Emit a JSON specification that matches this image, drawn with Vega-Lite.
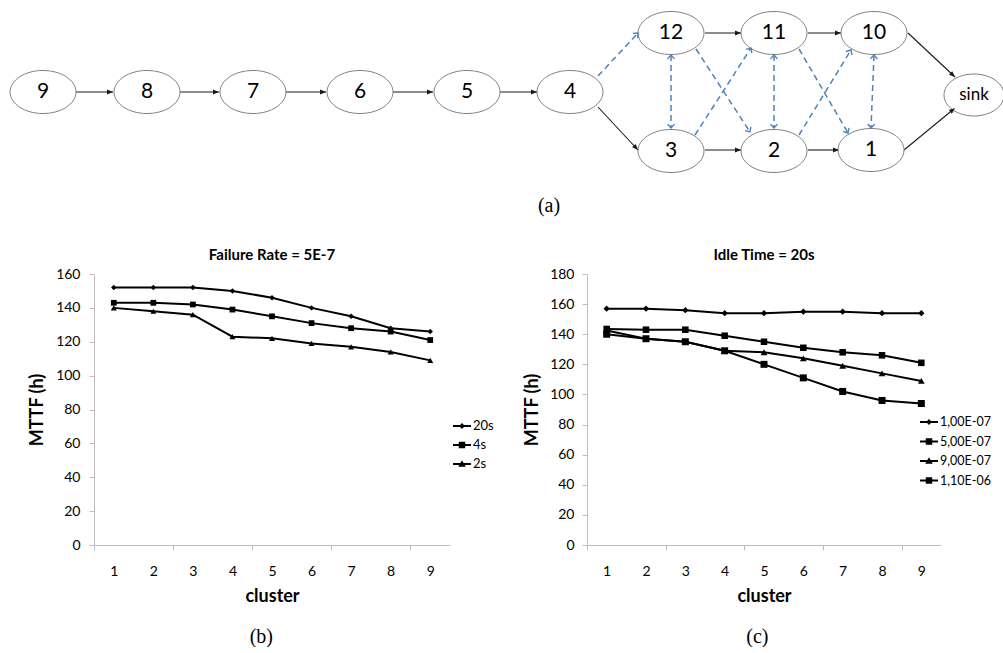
{
  "$schema": "https://vega.github.io/schema/vega-lite/v6.json",
  "padding": {"left": 8, "top": 0, "right": 0, "bottom": 0},
  "background": "white",
  "datasets": {
    "edges": [
      {"from": "9", "to": "8", "kind": "flow", "x1": 75, "y1": 92, "x2": 112, "y2": 92},
      {"from": "8", "to": "7", "kind": "flow", "x1": 179, "y1": 92, "x2": 218, "y2": 92},
      {"from": "7", "to": "6", "kind": "flow", "x1": 285, "y1": 92, "x2": 325, "y2": 92},
      {"from": "6", "to": "5", "kind": "flow", "x1": 392, "y1": 92, "x2": 432, "y2": 92},
      {"from": "5", "to": "4", "kind": "flow", "x1": 499, "y1": 92, "x2": 536, "y2": 92},
      {"from": "4", "to": "3", "kind": "flow", "x1": 597, "y1": 107, "x2": 637, "y2": 150},
      {"from": "12", "to": "11", "kind": "flow", "x1": 704, "y1": 33, "x2": 740, "y2": 33},
      {"from": "11", "to": "10", "kind": "flow", "x1": 807, "y1": 33, "x2": 840, "y2": 33},
      {"from": "3", "to": "2", "kind": "flow", "x1": 704, "y1": 150, "x2": 740, "y2": 150},
      {"from": "2", "to": "1", "kind": "flow", "x1": 807, "y1": 150, "x2": 838, "y2": 150},
      {"from": "10", "to": "sink", "kind": "flow", "x1": 907, "y1": 33, "x2": 954, "y2": 77},
      {"from": "1", "to": "sink", "kind": "flow", "x1": 903, "y1": 150, "x2": 954, "y2": 108},
      {"from": "4", "to": "12", "kind": "backup", "x1": 597, "y1": 76, "x2": 637, "y2": 33},
      {"from": "12", "to": "3", "kind": "backup", "x1": 670, "y1": 55, "x2": 670, "y2": 128},
      {"from": "12", "to": "2", "kind": "backup", "x1": 695, "y1": 49, "x2": 749, "y2": 132},
      {"from": "3", "to": "11", "kind": "backup", "x1": 694, "y1": 135, "x2": 750, "y2": 48},
      {"from": "11", "to": "2", "kind": "backup", "x1": 773, "y1": 55, "x2": 773, "y2": 128},
      {"from": "11", "to": "1", "kind": "backup", "x1": 798, "y1": 49, "x2": 847, "y2": 133},
      {"from": "2", "to": "10", "kind": "backup", "x1": 798, "y1": 135, "x2": 850, "y2": 50},
      {"from": "10", "to": "1", "kind": "backup", "x1": 873, "y1": 55, "x2": 870, "y2": 128}
    ],
    "heads": [
      {"kind": "flow", "x": 112, "y": 92, "angle": 0},
      {"kind": "flow", "x": 218, "y": 92, "angle": 0},
      {"kind": "flow", "x": 325, "y": 92, "angle": 0},
      {"kind": "flow", "x": 432, "y": 92, "angle": 0},
      {"kind": "flow", "x": 536, "y": 92, "angle": 0},
      {"kind": "flow", "x": 637, "y": 150, "angle": 47},
      {"kind": "flow", "x": 740, "y": 33, "angle": 0},
      {"kind": "flow", "x": 840, "y": 33, "angle": 0},
      {"kind": "flow", "x": 740, "y": 150, "angle": 0},
      {"kind": "flow", "x": 838, "y": 150, "angle": 0},
      {"kind": "flow", "x": 954, "y": 77, "angle": 43},
      {"kind": "flow", "x": 954, "y": 108, "angle": -40},
      {"kind": "backup", "x": 637, "y": 33, "angle": -46},
      {"kind": "backup", "x": 670, "y": 128, "angle": 90},
      {"kind": "backup", "x": 670, "y": 55, "angle": -90},
      {"kind": "backup", "x": 749, "y": 132, "angle": 57},
      {"kind": "backup", "x": 750, "y": 48, "angle": -57},
      {"kind": "backup", "x": 773, "y": 128, "angle": 90},
      {"kind": "backup", "x": 773, "y": 55, "angle": -90},
      {"kind": "backup", "x": 847, "y": 133, "angle": 60},
      {"kind": "backup", "x": 850, "y": 50, "angle": -59},
      {"kind": "backup", "x": 870, "y": 128, "angle": 92},
      {"kind": "backup", "x": 873, "y": 55, "angle": -88}
    ],
    "nodes": [
      {"id": "9", "kind": "node", "x": 42, "y": 92},
      {"id": "8", "kind": "node", "x": 146, "y": 92},
      {"id": "7", "kind": "node", "x": 252, "y": 92},
      {"id": "6", "kind": "node", "x": 359, "y": 92},
      {"id": "5", "kind": "node", "x": 466, "y": 92},
      {"id": "4", "kind": "node", "x": 569, "y": 92},
      {"id": "12", "kind": "node", "x": 670, "y": 33},
      {"id": "11", "kind": "node", "x": 773, "y": 33},
      {"id": "10", "kind": "node", "x": 873, "y": 33},
      {"id": "3", "kind": "node", "x": 670, "y": 151},
      {"id": "2", "kind": "node", "x": 773, "y": 151},
      {"id": "1", "kind": "node", "x": 870, "y": 150},
      {"id": "sink", "kind": "sink", "x": 973, "y": 95}
    ],
    "b": [
      {"series": "20s", "cluster": 1, "mttf": 152}, {"series": "20s", "cluster": 2, "mttf": 152}, {"series": "20s", "cluster": 3, "mttf": 152},
      {"series": "20s", "cluster": 4, "mttf": 150}, {"series": "20s", "cluster": 5, "mttf": 146}, {"series": "20s", "cluster": 6, "mttf": 140},
      {"series": "20s", "cluster": 7, "mttf": 135}, {"series": "20s", "cluster": 8, "mttf": 128}, {"series": "20s", "cluster": 9, "mttf": 126},
      {"series": "4s", "cluster": 1, "mttf": 143}, {"series": "4s", "cluster": 2, "mttf": 143}, {"series": "4s", "cluster": 3, "mttf": 142},
      {"series": "4s", "cluster": 4, "mttf": 139}, {"series": "4s", "cluster": 5, "mttf": 135}, {"series": "4s", "cluster": 6, "mttf": 131},
      {"series": "4s", "cluster": 7, "mttf": 128}, {"series": "4s", "cluster": 8, "mttf": 126}, {"series": "4s", "cluster": 9, "mttf": 121},
      {"series": "2s", "cluster": 1, "mttf": 140}, {"series": "2s", "cluster": 2, "mttf": 138}, {"series": "2s", "cluster": 3, "mttf": 136},
      {"series": "2s", "cluster": 4, "mttf": 123}, {"series": "2s", "cluster": 5, "mttf": 122}, {"series": "2s", "cluster": 6, "mttf": 119},
      {"series": "2s", "cluster": 7, "mttf": 117}, {"series": "2s", "cluster": 8, "mttf": 114}, {"series": "2s", "cluster": 9, "mttf": 109}
    ],
    "c": [
      {"series": "1,00E-07", "cluster": 1, "mttf": 157}, {"series": "1,00E-07", "cluster": 2, "mttf": 157}, {"series": "1,00E-07", "cluster": 3, "mttf": 156},
      {"series": "1,00E-07", "cluster": 4, "mttf": 154}, {"series": "1,00E-07", "cluster": 5, "mttf": 154}, {"series": "1,00E-07", "cluster": 6, "mttf": 155},
      {"series": "1,00E-07", "cluster": 7, "mttf": 155}, {"series": "1,00E-07", "cluster": 8, "mttf": 154}, {"series": "1,00E-07", "cluster": 9, "mttf": 154},
      {"series": "5,00E-07", "cluster": 1, "mttf": 143.5}, {"series": "5,00E-07", "cluster": 2, "mttf": 143}, {"series": "5,00E-07", "cluster": 3, "mttf": 143},
      {"series": "5,00E-07", "cluster": 4, "mttf": 139}, {"series": "5,00E-07", "cluster": 5, "mttf": 135}, {"series": "5,00E-07", "cluster": 6, "mttf": 131},
      {"series": "5,00E-07", "cluster": 7, "mttf": 128}, {"series": "5,00E-07", "cluster": 8, "mttf": 126}, {"series": "5,00E-07", "cluster": 9, "mttf": 121},
      {"series": "9,00E-07", "cluster": 1, "mttf": 142.5}, {"series": "9,00E-07", "cluster": 2, "mttf": 137}, {"series": "9,00E-07", "cluster": 3, "mttf": 135},
      {"series": "9,00E-07", "cluster": 4, "mttf": 129}, {"series": "9,00E-07", "cluster": 5, "mttf": 128}, {"series": "9,00E-07", "cluster": 6, "mttf": 124},
      {"series": "9,00E-07", "cluster": 7, "mttf": 119}, {"series": "9,00E-07", "cluster": 8, "mttf": 114}, {"series": "9,00E-07", "cluster": 9, "mttf": 109},
      {"series": "1,10E-06", "cluster": 1, "mttf": 140}, {"series": "1,10E-06", "cluster": 2, "mttf": 137}, {"series": "1,10E-06", "cluster": 3, "mttf": 135},
      {"series": "1,10E-06", "cluster": 4, "mttf": 129}, {"series": "1,10E-06", "cluster": 5, "mttf": 120}, {"series": "1,10E-06", "cluster": 6, "mttf": 111},
      {"series": "1,10E-06", "cluster": 7, "mttf": 102}, {"series": "1,10E-06", "cluster": 8, "mttf": 96}, {"series": "1,10E-06", "cluster": 9, "mttf": 94}
    ]
  },
  "spacing": 32,
  "vconcat": [
    {
      "width": 910,
      "height": 185,
      "title": {"text": "(a)", "orient": "bottom", "anchor": "middle", "font": "Liberation Serif", "fontSize": 20, "fontWeight": "normal", "offset": 11},
      "layer": [
        {
          "data": {"name": "edges"},
          "transform": [{"filter": "datum.kind == 'flow'"}],
          "mark": {"type": "rule", "color": "#1a1a1a", "strokeWidth": 1.1},
          "encoding": {
            "x": {"field": "x1", "type": "quantitative", "scale": {"domain": [0, 1003], "range": [-93, 910]}, "axis": null},
            "y": {"field": "y1", "type": "quantitative", "scale": {"domain": [0, 185], "range": [0, 185]}, "axis": null},
            "x2": {"field": "x2"},
            "y2": {"field": "y2"}
          }
        },
        {
          "data": {"name": "edges"},
          "transform": [{"filter": "datum.kind == 'backup'"}],
          "mark": {"type": "rule", "color": "#4F81BD", "strokeWidth": 1.5, "strokeDash": [6, 4]},
          "encoding": {
            "x": {"field": "x1", "type": "quantitative", "scale": {"domain": [0, 1003], "range": [-93, 910]}, "axis": null},
            "y": {"field": "y1", "type": "quantitative", "scale": {"domain": [0, 185], "range": [0, 185]}, "axis": null},
            "x2": {"field": "x2"},
            "y2": {"field": "y2"}
          }
        },
        {
          "data": {"name": "nodes"},
          "mark": {"type": "point", "filled": true, "fill": "white", "stroke": "#7f7f7f", "strokeWidth": 1, "opacity": 1},
          "encoding": {
            "x": {"field": "x", "type": "quantitative", "scale": {"domain": [0, 1003], "range": [-93, 910]}, "axis": null},
            "y": {"field": "y", "type": "quantitative", "scale": {"domain": [0, 185], "range": [0, 185]}, "axis": null},
            "shape": {"field": "kind", "type": "nominal", "legend": null, "scale": {"domain": ["node", "sink"], "range": [
              "M-1,0C-1,-0.36,-0.552,-0.652,0,-0.652C0.552,-0.652,1,-0.36,1,0C1,0.36,0.552,0.652,0,0.652C-0.552,0.652,-1,0.36,-1,0Z",
              "M-1,0C-1,-0.387,-0.552,-0.7,0,-0.7C0.552,-0.7,1,-0.387,1,0C1,0.387,0.552,0.7,0,0.7C-0.552,0.7,-1,0.387,-1,0Z"]}},
            "size": {"field": "kind", "type": "nominal", "legend": null, "scale": {"domain": ["node", "sink"], "range": [4356, 3600]}}
          }
        },
        {
          "data": {"name": "nodes"},
          "mark": {"type": "text", "font": "Lato", "color": "black", "baseline": "middle", "align": "center"},
          "encoding": {
            "x": {"field": "x", "type": "quantitative", "scale": {"domain": [0, 1003], "range": [-93, 910]}, "axis": null},
            "y": {"field": "y", "type": "quantitative", "scale": {"domain": [0, 185], "range": [0, 185]}, "axis": null},
            "text": {"field": "id"},
            "size": {"field": "kind", "type": "nominal", "legend": null, "scale": {"domain": ["node", "sink"], "range": [21, 17]}}
          }
        },
        {
          "data": {"name": "heads"},
          "transform": [{"filter": "datum.kind == 'flow'"}],
          "mark": {"type": "point", "filled": true, "color": "#1a1a1a", "opacity": 1, "size": 144, "strokeWidth": 0, "shape": "M0,0L-1,-0.4L-1,0.4Z"},
          "encoding": {
            "x": {"field": "x", "type": "quantitative", "scale": {"domain": [0, 1003], "range": [-93, 910]}, "axis": null},
            "y": {"field": "y", "type": "quantitative", "scale": {"domain": [0, 185], "range": [0, 185]}, "axis": null},
            "angle": {"field": "angle", "type": "quantitative", "scale": null}
          }
        },
        {
          "data": {"name": "heads"},
          "transform": [{"filter": "datum.kind == 'backup'"}],
          "mark": {"type": "point", "filled": false, "color": "#4F81BD", "opacity": 1, "size": 49, "strokeWidth": 1.4, "shape": "M-1.1,-1L0,0L-1.1,1"},
          "encoding": {
            "x": {"field": "x", "type": "quantitative", "scale": {"domain": [0, 1003], "range": [-93, 910]}, "axis": null},
            "y": {"field": "y", "type": "quantitative", "scale": {"domain": [0, 185], "range": [0, 185]}, "axis": null},
            "angle": {"field": "angle", "type": "quantitative", "scale": null}
          }
        }
      ],
      "resolve": {"scale": {"size": "independent"}}
    },
    {
      "spacing": 29,
      "hconcat": [
        {
          "title": {"text": "(b)", "orient": "bottom", "anchor": "middle", "font": "Liberation Serif", "fontSize": 20, "fontWeight": "normal", "offset": 22},
          "vconcat": [
            {
              "width": 356,
              "height": 271,
              "title": {"text": "Failure Rate = 5E-7", "offset": 4},
              "data": {"name": "b"},
              "encoding": {
                "x": {"field": "cluster", "type": "quantitative", "scale": {"domain": [0.5, 9.5], "nice": false, "zero": false},
                  "axis": {"values": [0.5, 1, 2, 2.5, 3, 4, 4.5, 5, 6, 6.5, 7, 8, 8.5, 9], "labelExpr": "datum.value % 1 == 0 ? '' + datum.value : ''",
                    "tickOpacity": {"condition": {"test": "datum.value % 1 != 0", "value": 1}, "value": 0},
                    "labelPadding": 14, "title": "cluster", "titlePadding": 9, "labelFlush": false, "labelOverlap": false}},
                "y": {"field": "mttf", "type": "quantitative", "scale": {"domain": [0, 160], "nice": false},
                  "axis": {"values": [0, 20, 40, 60, 80, 100, 120, 140, 160], "title": "MTTF (h)", "labelPadding": 9, "titlePadding": 9}}
              },
              "layer": [
                {"mark": {"type": "line", "color": "black", "strokeWidth": 2}, "encoding": {"detail": {"field": "series", "type": "nominal"}}},
                {"mark": {"type": "point", "filled": true, "color": "black", "opacity": 1, "strokeWidth": 0},
                  "encoding": {
                    "shape": {"field": "series", "type": "nominal", "legend": null, "scale": {"domain": ["20s", "4s", "2s"], "range": ["diamond", "square", "triangle-up"]}},
                    "size": {"field": "series", "type": "nominal", "legend": null, "scale": {"domain": ["20s", "4s", "2s"], "range": [30, 49, 55]}}
                  }},
                {"transform": [{"filter": "false"}],
                  "mark": {"type": "point", "filled": true, "color": "black", "opacity": 1},
                  "encoding": {
                    "shape": {"field": "series", "type": "nominal",
                      "scale": {"domain": ["20s", "4s", "2s"], "range": [
                        "M-1,-0.1L1,-0.1L1,0.1L-1,0.1Z M0,-0.32L0.32,0L0,0.32L-0.32,0Z",
                        "M-1,-0.1L1,-0.1L1,0.1L-1,0.1Z M-0.36,-0.36L0.36,-0.36L0.36,0.36L-0.36,0.36Z",
                        "M-1,-0.1L1,-0.1L1,0.1L-1,0.1Z M0,-0.42L0.42,0.3L-0.42,0.3Z"]},
                      "legend": {"orient": "none", "legendX": 359, "legendY": 143, "title": null, "padding": 0, "symbolSize": 324, "symbolStrokeWidth": 0, "symbolFillColor": "black", "symbolOpacity": 1, "labelFont": "Lato", "labelFontSize": 13, "labelColor": "black", "labelOffset": 2, "rowPadding": 3, "symbolOffset": 0}}
                  }}
              ],
              "resolve": {"scale": {"shape": "independent"}}
            }
          ]
        },
        {
          "title": {"text": "(c)", "orient": "bottom", "anchor": "middle", "font": "Liberation Serif", "fontSize": 20, "fontWeight": "normal", "offset": 22},
          "vconcat": [
            {
              "width": 354,
              "height": 271,
              "title": {"text": "Idle Time = 20s", "offset": 4},
              "data": {"name": "c"},
              "encoding": {
                "x": {"field": "cluster", "type": "quantitative", "scale": {"domain": [0.5, 9.5], "nice": false, "zero": false},
                  "axis": {"values": [0.5, 1, 2, 2.5, 3, 4, 4.5, 5, 6, 6.5, 7, 8, 8.5, 9], "labelExpr": "datum.value % 1 == 0 ? '' + datum.value : ''",
                    "tickOpacity": {"condition": {"test": "datum.value % 1 != 0", "value": 1}, "value": 0},
                    "labelPadding": 14, "title": "cluster", "titlePadding": 9, "labelFlush": false, "labelOverlap": false}},
                "y": {"field": "mttf", "type": "quantitative", "scale": {"domain": [0, 180], "nice": false},
                  "axis": {"values": [0, 20, 40, 60, 80, 100, 120, 140, 160, 180], "title": "MTTF (h)", "labelPadding": 8, "titlePadding": 8}}
              },
              "layer": [
                {"mark": {"type": "line", "color": "black", "strokeWidth": 2}, "encoding": {"detail": {"field": "series", "type": "nominal"}}},
                {"mark": {"type": "point", "filled": true, "color": "black", "opacity": 1, "strokeWidth": 0},
                  "encoding": {
                    "shape": {"field": "series", "type": "nominal", "legend": null, "scale": {"domain": ["1,00E-07", "5,00E-07", "9,00E-07", "1,10E-06"], "range": ["diamond", "square", "triangle-up", "square"]}},
                    "size": {"field": "series", "type": "nominal", "legend": null, "scale": {"domain": ["1,00E-07", "5,00E-07", "9,00E-07", "1,10E-06"], "range": [30, 49, 55, 49]}}
                  }},
                {"transform": [{"filter": "false"}],
                  "mark": {"type": "point", "filled": true, "color": "black", "opacity": 1},
                  "encoding": {
                    "shape": {"field": "series", "type": "nominal",
                      "scale": {"domain": ["1,00E-07", "5,00E-07", "9,00E-07", "1,10E-06"], "range": [
                        "M-1,-0.1L1,-0.1L1,0.1L-1,0.1Z M0,-0.32L0.32,0L0,0.32L-0.32,0Z",
                        "M-1,-0.1L1,-0.1L1,0.1L-1,0.1Z M-0.36,-0.36L0.36,-0.36L0.36,0.36L-0.36,0.36Z",
                        "M-1,-0.1L1,-0.1L1,0.1L-1,0.1Z M0,-0.42L0.42,0.3L-0.42,0.3Z",
                        "M-1,-0.1L1,-0.1L1,0.1L-1,0.1Z M-0.36,-0.36L0.36,-0.36L0.36,0.36L-0.36,0.36Z"]},
                      "legend": {"orient": "none", "legendX": 333, "legendY": 139, "title": null, "padding": 0, "symbolSize": 324, "symbolStrokeWidth": 0, "symbolFillColor": "black", "symbolOpacity": 1, "labelFont": "Lato", "labelFontSize": 12.5, "labelColor": "black", "labelOffset": 2, "rowPadding": 3.5, "symbolOffset": 0}}
                  }}
              ],
              "resolve": {"scale": {"shape": "independent"}}
            }
          ]
        }
      ]
    }
  ],
  "config": {
    "view": {"stroke": null},
    "font": "Lato",
    "axis": {"labelFont": "Lato", "titleFont": "Lato", "labelColor": "#000", "titleColor": "#000", "domainColor": "#bfbfbf", "tickColor": "#bfbfbf", "grid": false, "labelFontSize": 14, "titleFontSize": 18, "titleFontWeight": "bold", "tickSize": 5, "domainWidth": 1, "tickWidth": 1},
    "title": {"font": "Lato", "fontSize": 15, "fontWeight": "bold", "color": "#000"}
  }
}
